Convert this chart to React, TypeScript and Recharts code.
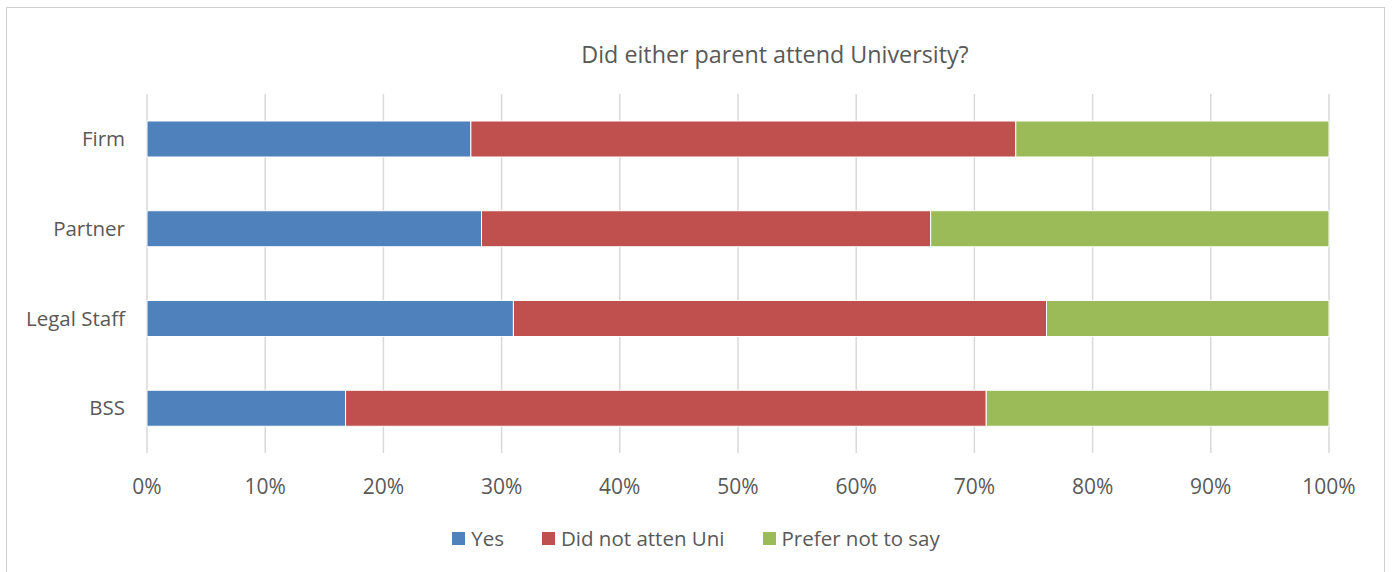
import { Bar, BarChart, CartesianGrid, Legend, XAxis, YAxis } from 'recharts'

const groups = ['Firm', 'Partner', 'Legal Staff', 'BSS']
const yes = [27.4, 28.3, 31.0, 16.8]
const didNotAttend = [46.1, 38.0, 45.1, 54.2]
const preferNotToSay = [26.5, 33.7, 23.9, 29.0]
const percentTicks = [0, 10, 20, 30, 40, 50, 60, 70, 80, 90, 100]

const series = [
  { key: 'yes', name: 'Yes', color: '#4F81BD' },
  { key: 'didNot', name: 'Did not atten Uni', color: '#C0504D' },
  { key: 'prefer', name: 'Prefer not to say', color: '#9BBB59' },
]

const data = groups.map((group, i) => ({
  group,
  yes: yes[i],
  didNot: didNotAttend[i],
  prefer: preferNotToSay[i],
}))

const font = '"Open Sans", sans-serif'
const textColor = '#595959'

function LegendRow() {
  return (
    <div style={{ display: 'flex', justifyContent: 'center', gap: 38, fontFamily: font, fontSize: 20.5, color: textColor }}>
      {series.map((s) => (
        <div key={s.key} style={{ display: 'flex', alignItems: 'center', gap: 6 }}>
          <span style={{ width: 13, height: 13, background: s.color, display: 'inline-block' }} />
          <span>{s.name}</span>
        </div>
      ))}
    </div>
  )
}

export default function App() {
  return (
    <div style={{ position: 'absolute', left: 0, top: 0, width: 1392, height: 572, background: '#fff', overflow: 'hidden' }}>
      <div style={{ position: 'absolute', left: 6, top: 7, width: 1379, height: 600, border: '1px solid #D0D0D0', boxSizing: 'border-box' }} />
      <BarChart
        width={1392}
        height={572}
        data={data}
        layout="vertical"
        barSize={36}
        margin={{ top: 94, right: 63, left: 0, bottom: 0 }}
        style={{ position: 'absolute', left: 0, top: 0 }}
      >
        <text x={775} y={63} textAnchor="middle" fontFamily={font} fontSize={23.3} fill={textColor}>
          Did either parent attend University?
        </text>
        <CartesianGrid horizontal={false} stroke="#D9D9D9" strokeWidth={1.5} />
        <XAxis
          type="number"
          domain={[0, 100]}
          ticks={percentTicks}
          tickFormatter={(v) => `${v}%`}
          axisLine={false}
          tickLine={false}
          tickSize={0}
          tickMargin={26}
          height={119}
          interval={0}
          tick={{ fill: textColor, fontSize: 21, fontFamily: font }}
        />
        <YAxis
          type="category"
          dataKey="group"
          width={147}
          axisLine={false}
          tickLine={false}
          tickSize={0}
          tickMargin={22}
          tick={{ fill: textColor, fontSize: 20.5, fontFamily: font }}
        />
        <Legend
          layout="horizontal"
          align="center"
          verticalAlign="middle"
          wrapperStyle={{ top: 524, left: 0, width: 1392 }}
          content={() => <LegendRow />}
        />
        {series.map((s) => (
          <Bar key={s.key} dataKey={s.key} name={s.name} stackId="a" fill={s.color} stroke="#ffffff" strokeWidth={1} isAnimationActive={false} />
        ))}
      </BarChart>
    </div>
  )
}
